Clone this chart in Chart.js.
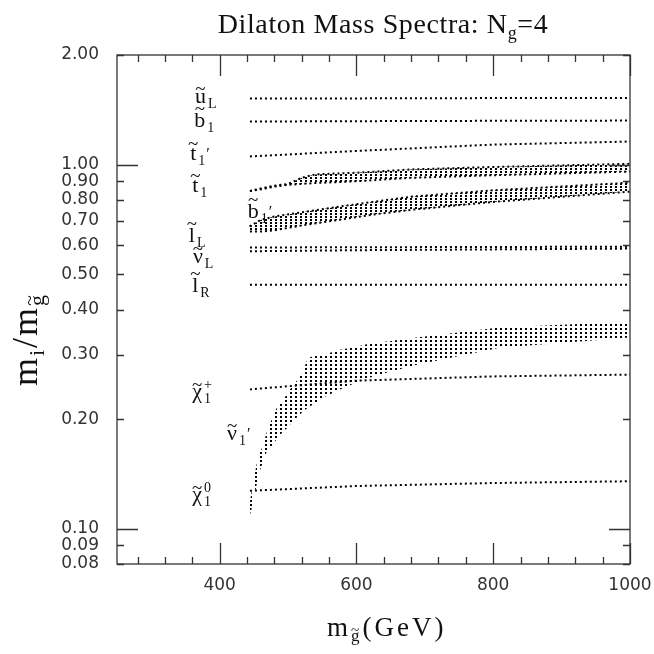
<!DOCTYPE html>
<html>
<head>
<meta charset="utf-8">
<title>Dilaton Mass Spectra</title>
<script src="https://cdn.jsdelivr.net/npm/chart.js@4.4.1/dist/chart.umd.min.js"></script>
<style>
  html, body { margin: 0; padding: 0; background: #fff; }
  #c { display: block; }
</style>
</head>
<body>
<canvas id="c" width="654" height="654"></canvas>
<script>
// axis ticks
const xTicks = [280, 320, 360, 400, 440, 480, 520, 560, 600, 640, 680, 720, 760, 800, 840, 880, 920, 960, 1000];
const xLabelTicks = [400, 600, 800, 1000];
const yTicks = [0.08, 0.09, 0.1, 0.2, 0.3, 0.4, 0.5, 0.6, 0.7, 0.8, 0.9, 1, 2];

// single-valued spectra (m_i / m_gluino) vs gluino mass
const lineMass = [440, 600, 800, 1000];
const uL = [1.518, 1.52, 1.523, 1.525];
const b1 = [1.313, 1.316, 1.319, 1.321];
const t1p = [1.052, 1.09, 1.135, 1.157];
const lL = [0.592, 0.593, 0.594, 0.595];
const nuL = [0.578, 0.582, 0.585, 0.588];
const lR = [0.468, 0.468, 0.468, 0.468];
const chiPlus = [0.241, 0.255, 0.262, 0.265];
const chiZero = [0.127, 0.131, 0.1335, 0.135];

// scanned bands: lower / upper edge
const t1Mass = [440, 460, 480, 500, 520, 540, 600, 680, 800, 1000];
const t1Hi = [0.843, 0.86, 0.875, 0.885, 0.92, 0.94, 0.95, 0.97, 0.985, 1.005];
const t1Lo = [0.843, 0.855, 0.87, 0.88, 0.885, 0.89, 0.90, 0.92, 0.935, 0.957];

const b1pMass = [440, 460, 480, 527, 576, 624, 682, 800, 1000];
const b1pHi = [0.67, 0.705, 0.72, 0.743, 0.767, 0.79, 0.817, 0.85, 0.892];
const b1pLo = [0.655, 0.655, 0.66, 0.684, 0.706, 0.729, 0.752, 0.79, 0.843];

const nu1pMass = [441, 449, 457, 463, 470, 478, 485, 492, 500, 507, 514, 522, 529, 536, 551, 576, 600, 624, 649, 673, 688, 809, 1000];
const nu1pHi = [0.108, 0.134, 0.160, 0.168, 0.187, 0.203, 0.218, 0.223, 0.238, 0.246, 0.257, 0.27, 0.295, 0.297, 0.30, 0.31, 0.316, 0.324, 0.327, 0.333, 0.335, 0.357, 0.37];
const nu1pLo = [0.103, 0.118, 0.141, 0.152, 0.165, 0.17, 0.178, 0.184, 0.19, 0.197, 0.203, 0.21, 0.215, 0.219, 0.229, 0.241, 0.252, 0.262, 0.27, 0.277, 0.282, 0.314, 0.335];

// particle labels, placed in data coordinates (baseline of the main letter)
const particleLabels = [
  { base: 'u', sub: 'L', x: 364, y: 1.48 },
  { base: 'b', sub: '1', x: 363, y: 1.272 },
  { base: 't', sub: '1', prime: true, x: 357, y: 1.032 },
  { base: 't', sub: '1', x: 360, y: 0.843 },
  { base: 'b', sub: '1', prime: true, x: 441, y: 0.715 },
  { base: 'l', sub: 'L', x: 355, y: 0.614 },
  { base: 'ν', sub: 'L', x: 361, y: 0.538 },
  { base: 'l', sub: 'R', x: 360, y: 0.448 },
  { base: 'χ', sub: '1', sup: '+', x: 360, y: 0.228 },
  { base: 'ν', sub: '1', prime: true, x: 411, y: 0.1756 },
  { base: 'χ', sub: '1', sup: '0', x: 360, y: 0.119 },
];

const SERIF = '"Liberation Serif", "DejaVu Serif", serif';
const SANS = '"DejaVu Sans", sans-serif';

function pts(xs, ys) {
  return xs.map((x, i) => ({ x, y: ys[i] }));
}

// column-of-dots fill used for the scanned bands
function dotPattern(h) {
  const c = document.createElement('canvas');
  c.width = 5;
  c.height = h;
  const g = c.getContext('2d');
  g.fillStyle = '#000';
  g.fillRect(0, 0, 2, 2);
  return g.createPattern(c, 'repeat');
}

const dotted = {
  borderColor: '#000',
  borderWidth: 2,
  borderDash: [2, 3],
  borderDashOffset: 2,
  borderCapStyle: 'butt',
  pointRadius: 0,
  fill: false,
  tension: 0,
};

const datasets = [
  { ...dotted, label: 'uL', data: pts(lineMass, uL) },
  { ...dotted, label: 'b1', data: pts(lineMass, b1) },
  { ...dotted, label: "t1'", data: pts(lineMass, t1p) },
  { ...dotted, label: 'lL', data: pts(lineMass, lL) },
  { ...dotted, label: 'nuL', data: pts(lineMass, nuL) },
  { ...dotted, label: 'lR', data: pts(lineMass, lR) },
  { ...dotted, label: 'chi+', data: pts(lineMass, chiPlus) },
  { ...dotted, label: 'chi0', data: pts(lineMass, chiZero) },
  { ...dotted, label: 't1 low', data: pts(t1Mass, t1Lo) },
  { ...dotted, label: 't1 high', data: pts(t1Mass, t1Hi), fill: '-1', backgroundColor: dotPattern(3) },
  { ...dotted, label: "b1' low", data: pts(b1pMass, b1pLo) },
  { ...dotted, label: "b1' high", data: pts(b1pMass, b1pHi), fill: '-1', backgroundColor: dotPattern(3) },
  { ...dotted, label: "nu1' low", borderWidth: 0, data: pts(nu1pMass, nu1pLo) },
  { ...dotted, label: "nu1' high", borderWidth: 0, data: pts(nu1pMass, nu1pHi), fill: '-1', backgroundColor: dotPattern(4) },
];

// tilde accent centred above a glyph
function tilde(ctx, cx, midY, size) {
  ctx.save();
  ctx.font = size + 'px ' + SERIF;
  ctx.letterSpacing = '0px';
  const m = ctx.measureText('~');
  const mid = (m.actualBoundingBoxAscent - m.actualBoundingBoxDescent) / 2;
  ctx.textAlign = 'center';
  ctx.fillText('~', cx, midY + mid);
  ctx.restore();
}

function drawParticle(ctx, px, py, p) {
  ctx.textAlign = 'left';
  ctx.textBaseline = 'alphabetic';
  ctx.letterSpacing = '0px';
  ctx.font = '22px ' + SERIF;
  const m = ctx.measureText(p.base);
  ctx.fillText(p.base, px, py);
  tilde(ctx, px + m.width / 2, py - m.actualBoundingBoxAscent - 4, 19);
  let x = px + m.width + 2;
  ctx.font = '14px ' + SERIF;
  let w = 0;
  if (p.sub) {
    ctx.fillText(p.sub, x, py + 5);
    w = ctx.measureText(p.sub).width;
  }
  if (p.sup) {
    ctx.fillText(p.sup, x, py - 9);
    w = Math.max(w, ctx.measureText(p.sup).width);
  }
  x += w + 1;
  if (p.prime) {
    ctx.font = '16px ' + SERIF;
    ctx.fillText('\u2032', x, py - 1);
  }
}

// runs of [text, size, baselineShift, tildeRise] pieces drawn with letter spacing
function runWidth(ctx, parts, spacing) {
  ctx.letterSpacing = spacing + 'px';
  let w = 0;
  parts.forEach(([t, size]) => {
    ctx.font = size + 'px ' + SERIF;
    w += ctx.measureText(t).width;
  });
  return w;
}

function drawRun(ctx, parts, x, y, spacing) {
  parts.forEach(([t, size, dy, accent]) => {
    ctx.letterSpacing = spacing + 'px';
    ctx.font = size + 'px ' + SERIF;
    const w = ctx.measureText(t).width;
    ctx.fillText(t, x, y + dy);
    if (accent) tilde(ctx, x + (w - spacing) / 2, y + dy - accent, size * 0.9);
    x += w;
  });
  ctx.letterSpacing = '0px';
  return x;
}

const framePlugin = {
  id: 'frame',
  afterDraw(chart) {
    const { ctx, chartArea: a, scales } = chart;
    ctx.save();
    ctx.strokeStyle = '#333';
    ctx.lineWidth = 1.3;
    ctx.strokeRect(a.left, a.top, a.right - a.left, a.bottom - a.top);
    ctx.beginPath();
    xTicks.forEach(v => {
      const px = Math.round(scales.x.getPixelForValue(v)) + 0.5;
      const len = xLabelTicks.includes(v) ? 21 : 7;
      ctx.moveTo(px, a.bottom); ctx.lineTo(px, a.bottom - len);
      ctx.moveTo(px, a.top); ctx.lineTo(px, a.top + len);
    });
    yTicks.forEach(v => {
      const py = Math.round(scales.y.getPixelForValue(v)) + 0.5;
      const len = (v === 0.1 || v === 1) ? 21 : 7;
      ctx.moveTo(a.left, py); ctx.lineTo(a.left + len, py);
      ctx.moveTo(a.right, py); ctx.lineTo(a.right - len, py);
    });
    ctx.stroke();
    ctx.restore();
  }
};

const textPlugin = {
  id: 'texts',
  afterDraw(chart) {
    const { ctx, scales } = chart;
    ctx.save();
    ctx.fillStyle = '#111';
    ctx.textBaseline = 'alphabetic';
    ctx.textAlign = 'left';

    // title
    const title = [['Dilaton Mass Spectra: N', 28, 0], ['g', 18, 6], ['=4', 28, 0]];
    const tw = runWidth(ctx, title, 0.6);
    drawRun(ctx, title, 383 - tw / 2, 33, 0.6);

    // x axis title
    const xTitle = [['m', 27, 0], ['g', 17, 5, 12], ['(GeV)', 27, 0]];
    drawRun(ctx, xTitle, 327, 636, 3);

    // y axis title (rotated)
    ctx.save();
    ctx.translate(37, 386);
    ctx.rotate(-Math.PI / 2);
    const yTitle = [['m', 36, 0], ['i', 22, 7], ['/', 36, 0], ['m', 36, 0], ['g', 22, 7, 15]];
    drawRun(ctx, yTitle, 0, 0, 2);
    ctx.restore();

    // particle labels
    particleLabels.forEach(p => {
      drawParticle(ctx, scales.x.getPixelForValue(p.x), scales.y.getPixelForValue(p.y), p);
    });
    ctx.restore();
  }
};

new Chart(document.getElementById('c'), {
  type: 'line',
  data: { datasets },
  options: {
    responsive: false,
    animation: false,
    devicePixelRatio: 1,
    layout: { padding: { top: 55, right: 24, left: 0, bottom: 0 } },
    plugins: { legend: { display: false }, tooltip: { enabled: false }, title: { display: false } },
    scales: {
      x: {
        type: 'linear',
        min: 250,
        max: 1000,
        grid: { display: false, drawTicks: false, tickLength: 0 },
        border: { display: false },
        afterBuildTicks: s => { s.ticks = xTicks.map(v => ({ value: v })); },
        afterFit: s => { s.height = 90; s.paddingLeft = 0; s.paddingRight = 0; },
        ticks: {
          autoSkip: false,
          maxRotation: 0,
          padding: 11,
          color: '#333',
          font: { family: SANS, size: 17 },
          callback: v => xLabelTicks.includes(v) ? String(v) : '',
        },
      },
      y: {
        type: 'logarithmic',
        min: 0.08,
        max: 2,
        grid: { display: false, drawTicks: false, tickLength: 0 },
        border: { display: false },
        afterBuildTicks: s => { s.ticks = yTicks.map(v => ({ value: v })); },
        afterFit: s => { s.width = 117; s.paddingTop = 0; s.paddingBottom = 0; },
        ticks: {
          autoSkip: false,
          padding: 18,
          color: '#333',
          font: { family: SANS, size: 17 },
          callback: v => Number(v).toFixed(2),
        },
      },
    },
  },
  plugins: [framePlugin, textPlugin],
});
</script>
</body>
</html>
